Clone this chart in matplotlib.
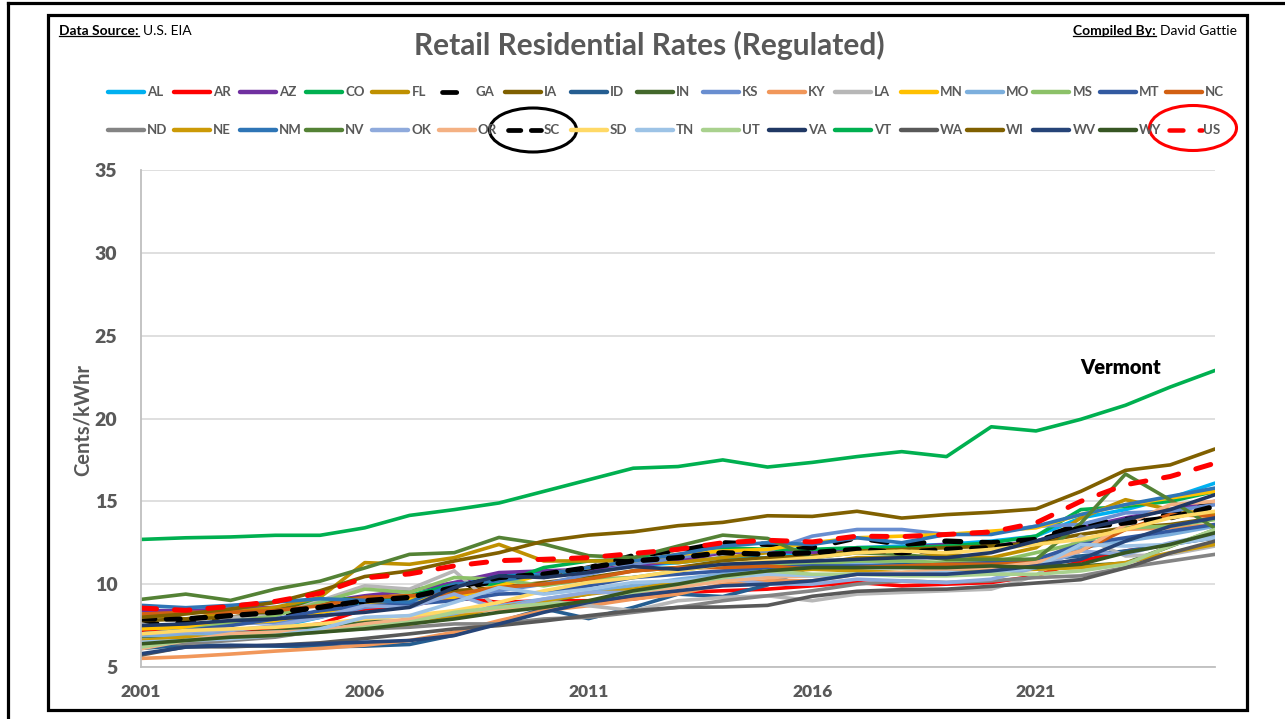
import matplotlib
matplotlib.use("Agg")
import matplotlib.pyplot as plt
from matplotlib.lines import Line2D
from matplotlib.patches import Ellipse, Rectangle

plt.rcParams['font.family'] = ['Lato', 'DejaVu Sans']

years = list(range(2001, 2026))

AL = [7.0, 7.1, 7.2, 7.4, 8.0, 8.9, 9.3, 10.0, 10.6, 10.6, 10.8, 11.1, 11.3, 11.6, 11.6, 12.0, 12.2, 12.3, 12.4, 12.6, 12.9, 14.0, 14.5, 15.2, 16.1]
AR = [7.2, 7.1, 7.2, 7.3, 7.6, 8.5, 8.7, 9.2, 8.9, 9.0, 9.0, 9.1, 9.5, 9.6, 9.7, 9.9, 10.1, 9.9, 10.0, 10.1, 10.5, 11.4, 12.0, 12.4, 12.9]
AZ = [8.4, 8.4, 8.5, 8.6, 8.9, 9.3, 9.6, 10.1, 10.7, 10.8, 10.9, 11.1, 11.4, 11.9, 12.0, 11.9, 12.2, 12.2, 12.4, 12.3, 12.6, 13.4, 14.0, 14.5, 15.0]
CO = [7.5, 7.4, 7.9, 8.3, 9.1, 9.1, 9.3, 10.0, 10.0, 11.0, 11.4, 11.5, 12.1, 12.2, 12.1, 12.1, 12.2, 12.2, 12.3, 12.5, 12.9, 14.5, 14.7, 15.0, 15.6]
FL = [8.2, 7.9, 8.3, 8.6, 9.2, 11.3, 11.2, 11.6, 12.4, 11.4, 11.4, 11.4, 11.3, 11.6, 11.9, 11.2, 11.6, 11.6, 11.8, 11.6, 12.2, 14.0, 15.1, 14.5, 14.2]
GA = [7.6, 7.66, 7.98, 8.1, 8.48, 8.88, 9.12, 9.62, 10.26, 10.46, 10.98, 11.72, 12.0, 12.5, 12.4, 12.2, 12.8, 12.4, 12.6, 12.5, 12.7, 13.6, 13.9, 14.2, 14.9]
IA = [7.8, 7.9, 8.0, 8.4, 8.9, 9.2, 9.3, 9.6, 9.8, 10.1, 10.4, 10.8, 11.0, 11.4, 11.6, 11.7, 12.0, 12.1, 12.2, 12.3, 12.5, 13.0, 13.4, 13.6, 14.0]
ID = [6.12, 6.32, 6.3, 6.26, 6.22, 6.26, 6.36, 6.92, 7.72, 8.52, 7.92, 8.6, 9.4, 9.25, 9.95, 11.1, 11.2, 11.2, 11.3, 11.4, 11.5, 11.7, 12.0, 12.4, 12.8]
IN = [6.82, 6.9, 7.0, 7.18, 7.4, 7.78, 7.72, 8.22, 8.58, 8.92, 9.42, 9.98, 10.2, 10.47, 10.77, 11.07, 11.18, 11.1, 11.07, 11.07, 11.1, 11.1, 11.27, 12.28, 13.29]
KS = [7.4, 7.5, 7.6, 7.7, 8.0, 8.6, 8.8, 9.3, 9.6, 10.0, 10.6, 11.2, 11.6, 12.0, 12.0, 12.9, 13.3, 13.3, 13.0, 13.1, 13.5, 13.6, 14.3, 14.4, 14.8]
KY = [5.52, 5.62, 5.78, 5.96, 6.12, 6.32, 6.6, 7.1, 7.8, 8.4, 8.7, 9.1, 9.4, 10.0, 10.2, 10.2, 10.6, 10.6, 10.7, 10.9, 11.3, 12.6, 13.3, 13.4, 13.6]
LA = [7.6, 7.0, 8.0, 8.1, 9.0, 9.9, 9.7, 10.8, 8.5, 9.0, 8.7, 8.4, 9.0, 9.2, 9.3, 9.0, 9.4, 9.5, 9.6, 9.7, 10.5, 12.9, 11.7, 11.8, 12.3]
MN = [7.3, 7.4, 7.6, 7.8, 8.3, 8.7, 9.1, 9.2, 9.9, 10.6, 11.0, 11.4, 11.8, 12.0, 12.1, 12.5, 12.8, 12.9, 13.0, 13.2, 13.4, 14.2, 14.8, 15.2, 15.6]
MO = [6.9, 6.9, 7.0, 7.1, 7.2, 7.5, 7.7, 8.1, 8.7, 9.1, 9.5, 9.9, 10.3, 10.6, 10.9, 11.2, 11.2, 11.1, 11.0, 11.0, 11.3, 12.2, 12.6, 13.0, 13.5]
MS = [7.0, 7.2, 7.7, 8.1, 8.9, 9.7, 9.5, 10.4, 10.3, 9.9, 10.3, 10.4, 10.8, 11.2, 11.2, 11.2, 11.4, 11.4, 11.3, 11.3, 11.9, 12.5, 13.4, 13.5, 13.9]
MT = [7.0, 7.2, 7.5, 7.9, 8.4, 8.7, 8.8, 9.0, 9.4, 9.5, 9.9, 10.4, 10.6, 10.8, 11.0, 11.1, 11.1, 11.1, 11.2, 11.3, 11.5, 12.4, 12.8, 13.2, 13.6]
NC = [8.2, 8.3, 8.3, 8.4, 8.7, 9.2, 9.3, 9.4, 9.8, 10.0, 10.3, 10.8, 11.0, 11.0, 11.1, 10.9, 11.0, 11.1, 11.2, 11.2, 11.3, 12.0, 13.3, 14.2, 14.1]
ND = [6.5, 6.4, 6.6, 6.8, 7.2, 7.3, 7.4, 7.6, 7.6, 7.9, 8.0, 8.3, 8.6, 9.0, 9.3, 9.6, 10.0, 10.2, 10.1, 10.2, 10.4, 10.5, 11.0, 11.4, 11.8]
NE = [6.6, 6.8, 6.8, 7.0, 7.2, 7.4, 7.6, 8.0, 8.6, 9.0, 9.4, 9.7, 10.1, 10.4, 10.7, 10.9, 10.8, 10.7, 10.8, 10.8, 10.9, 11.0, 11.3, 11.9, 12.4]
NM = [8.72, 8.58, 8.72, 8.92, 9.12, 9.02, 8.92, 10.0, 10.2, 10.6, 11.0, 11.4, 11.8, 12.3, 12.5, 12.4, 12.8, 12.5, 13.0, 13.0, 13.5, 14.2, 14.8, 15.3, 15.8]
NV = [9.08, 9.4, 9.02, 9.7, 10.18, 10.98, 11.8, 11.9, 12.82, 12.42, 11.72, 11.6, 12.3, 12.96, 12.76, 11.6, 11.9, 11.8, 11.5, 11.5, 11.5, 13.67, 16.65, 15.08, 13.37]
OK = [7.0, 7.1, 7.2, 7.5, 8.0, 8.7, 8.6, 9.4, 8.5, 9.1, 9.5, 9.5, 9.9, 10.4, 10.0, 10.0, 10.3, 10.2, 10.1, 10.3, 11.0, 12.0, 11.8, 12.5, 13.0]
OR = [6.1, 6.6, 7.0, 7.1, 7.2, 7.6, 7.9, 8.3, 8.5, 8.6, 8.9, 9.5, 9.8, 10.2, 10.4, 10.5, 10.6, 10.7, 10.9, 11.0, 11.3, 12.0, 13.6, 14.8, 15.0]
SC = [7.9, 7.9, 8.1, 8.3, 8.6, 9.0, 9.2, 9.8, 10.4, 10.6, 11.0, 11.4, 11.6, 11.9, 11.8, 11.9, 12.1, 11.9, 12.1, 12.2, 12.6, 13.4, 13.7, 14.0, 14.7]
SD = [7.0, 7.2, 7.3, 7.4, 7.6, 7.9, 8.1, 8.4, 8.9, 9.6, 10.1, 10.4, 10.8, 11.2, 11.4, 11.6, 11.9, 12.0, 11.9, 12.1, 12.4, 12.7, 13.3, 14.0, 14.4]
TN = [6.5, 6.6, 6.7, 6.9, 7.3, 8.0, 8.1, 8.9, 9.8, 9.4, 9.7, 10.1, 10.2, 10.4, 10.6, 10.5, 10.6, 10.6, 10.7, 10.7, 11.0, 12.4, 12.3, 12.4, 12.8]
UT = [6.2, 6.6, 6.8, 6.9, 7.1, 7.4, 7.7, 8.3, 8.6, 8.8, 8.9, 9.5, 10.0, 10.4, 10.8, 10.6, 10.6, 10.5, 10.5, 10.6, 10.6, 10.8, 11.2, 12.3, 13.3]
VA = [7.5, 7.6, 7.8, 7.9, 8.1, 8.3, 8.6, 9.8, 10.5, 10.4, 10.7, 11.06, 10.9, 11.2, 11.3, 11.4, 11.5, 11.6, 11.6, 11.9, 12.6, 13.3, 13.9, 14.5, 15.4]
VT = [12.7, 12.8, 12.85, 12.95, 12.95, 13.4, 14.15, 14.5, 14.9, 15.6, 16.3, 17.0, 17.1, 17.5, 17.07, 17.35, 17.7, 18.0, 17.7, 19.5, 19.25, 19.95, 20.8, 21.9, 22.9]
WA = [5.72, 6.22, 6.22, 6.32, 6.46, 6.72, 7.0, 7.3, 7.5, 7.78, 8.1, 8.4, 8.6, 8.62, 8.72, 9.27, 9.57, 9.67, 9.7, 9.87, 10.07, 10.27, 10.98, 11.88, 12.6]
WI = [8.0, 8.2, 8.5, 8.9, 9.6, 10.46, 10.8, 11.4, 11.9, 12.6, 12.96, 13.16, 13.53, 13.73, 14.13, 14.09, 14.4, 13.99, 14.2, 14.34, 14.54, 15.6, 16.87, 17.2, 18.16]
WV = [5.8, 6.2, 6.3, 6.3, 6.4, 6.5, 6.6, 6.9, 7.6, 8.3, 8.9, 9.3, 9.6, 9.9, 10.0, 10.2, 10.6, 10.6, 10.6, 10.8, 11.1, 11.5, 12.6, 13.5, 14.0]
WY = [6.4, 6.6, 6.8, 6.9, 7.1, 7.3, 7.6, 7.9, 8.3, 8.6, 9.0, 9.6, 10.0, 10.5, 10.8, 11.0, 11.0, 11.0, 11.0, 11.1, 11.0, 11.2, 11.9, 12.4, 13.1]
US = [8.56, 8.42, 8.66, 8.96, 9.45, 10.38, 10.62, 11.1, 11.42, 11.5, 11.6, 11.85, 12.1, 12.5, 12.65, 12.55, 12.9, 12.87, 13.0, 13.15, 13.7, 15.0, 16.0, 16.5, 17.3]

names = ["AL", "AR", "AZ", "CO", "FL", "GA", "IA", "ID", "IN", "KS", "KY", "LA", "MN", "MO", "MS", "MT", "NC",
         "ND", "NE", "NM", "NV", "OK", "OR", "SC", "SD", "TN", "UT", "VA", "VT", "WA", "WI", "WV", "WY", "US"]
values = [AL, AR, AZ, CO, FL, GA, IA, ID, IN, KS, KY, LA, MN, MO, MS, MT, NC,
          ND, NE, NM, NV, OK, OR, SC, SD, TN, UT, VA, VT, WA, WI, WV, WY, US]
colors = ["#00B0F0", "#FF0000", "#7030A0", "#00B050", "#BF9000", "#000000", "#7F6000", "#255E91", "#43682B",
          "#698ED0", "#F1975A", "#B7B7B7", "#FFC000", "#7CAFDD", "#8CC168", "#335AA1", "#D26012",
          "#848484", "#CC9A06", "#2E75B6", "#548235", "#8FAADC", "#F4B183", "#000000", "#FFD966",
          "#9DC3E6", "#A9D18E", "#203864", "#00B050", "#595959", "#806000", "#264478", "#375623", "#FF0000"]

# dashed series: (linewidth, dash pattern in linewidth units)
dashed = {"GA": (3.8, (3.0, 4.0)), "SC": (3.8, (2.6, 2.2)), "US": (3.6, (3.1, 3.6))}

W, H = 1285, 719
GRAY = "#595959"


def fx(p):
    return p / W


def fy(p):
    return 1 - p / H


fig = plt.figure(figsize=(12.85, 7.19), dpi=100)
ax = fig.add_axes([fx(141), fy(667), fx(1215) - fx(141), fy(170) - fy(667)])

for name, vals, col in zip(names, values, colors):
    if name in dashed:
        lw, pat = dashed[name]
        ax.plot(years, vals, color=col, lw=lw, linestyle=(0, pat), dash_capstyle="round",
                dash_joinstyle="round")
    else:
        ax.plot(years, vals, color=col, lw=2.6, solid_joinstyle="round", solid_capstyle="round")

ax.set_xlim(2001, 2025)
ax.set_ylim(5, 35)
ax.set_yticks(range(5, 40, 5))
ax.set_xticks([2001, 2006, 2011, 2016, 2021])
ax.yaxis.grid(True, color="#D9D9D9", lw=1.2)
ax.set_axisbelow(True)
for s in ["top", "right"]:
    ax.spines[s].set_visible(False)
for s in ["left", "bottom"]:
    ax.spines[s].set_color("#BFBFBF")
    ax.spines[s].set_linewidth(1.3)
ax.tick_params(axis="y", length=0, labelsize=14, labelcolor=GRAY, pad=17)
ax.tick_params(axis="x", length=0, labelsize=12.5, labelcolor=GRAY, pad=12)
for lbl in ax.get_xticklabels() + ax.get_yticklabels():
    lbl.set_fontweight("heavy")

fig.text(fx(83), fy(420), "Cents/kWhr", rotation=90, ha="center", va="center",
         fontsize=14.5, fontweight="bold", color=GRAY)
fig.text(fx(1080), fy(367), "Vermont", ha="left", va="center", fontsize=14.5, fontweight="heavy", color="black")
fig.text(fx(649), fy(45), "Retail Residential Rates (Regulated)", ha="center", va="center",
         fontsize=21.5, fontweight="bold", color=GRAY)

# legend, two rows of 17
for i, (name, col) in enumerate(zip(names, colors)):
    r, c = divmod(i, 17)
    x0 = 108 + c * 66.1
    yy = fy(92 if r == 0 else 130)
    if name in dashed:
        lw, pat = dashed[name]
        ln = Line2D([fx(x0 + 3), fx(x0 + 36)], [yy, yy], color=col, lw=lw * 0.9, linestyle=(0, pat),
                    dash_capstyle="round", transform=fig.transFigure)
    else:
        ln = Line2D([fx(x0), fx(x0 + 36)], [yy, yy], color=col, lw=3.2, solid_capstyle="round",
                    transform=fig.transFigure)
    fig.add_artist(ln)
    tx = x0 + 39 if name not in ("GA", "US") else x0 + 37
    fig.text(fx(tx), yy, name, ha="left", va="center", fontsize=9.5, fontweight="bold", color=GRAY)

# highlight ellipses
fig.add_artist(Ellipse((fx(533), fy(130)), 87 / W, 44 / H, fill=False, ec="black", lw=2.2,
                       transform=fig.transFigure))
fig.add_artist(Ellipse((fx(1193), fy(128)), 87 / W, 45 / H, fill=False, ec="#FF0000", lw=2.2,
                       transform=fig.transFigure))

# frames
fig.add_artist(Rectangle((fx(48), fy(710)), fx(1247) - fx(48), fy(15) - fy(710), fill=False,
                         ec="black", lw=2.3, transform=fig.transFigure))
fig.add_artist(Line2D([fx(8), fx(8)], [fy(3), 0], color="black", lw=2.3, transform=fig.transFigure))
fig.add_artist(Line2D([fx(8), 1], [fy(3), fy(3)], color="black", lw=2.3, transform=fig.transFigure))

# header notes with underlined labels
t1 = fig.text(fx(59), fy(31), "Data Source:", ha="left", va="center", fontsize=10, fontweight="bold")
t4 = fig.text(fx(1237), fy(31), "David Gattie", ha="right", va="center", fontsize=10)
fig.canvas.draw()
rend = fig.canvas.get_renderer()
b1 = t1.get_window_extent(rend)
b4 = t4.get_window_extent(rend)
fig.text((b1.x1 + 4) / W, fy(31), "U.S. EIA", ha="left", va="center", fontsize=10)
t3 = fig.text((b4.x0 - 4) / W, fy(31), "Compiled By:", ha="right", va="center", fontsize=10, fontweight="bold")
fig.canvas.draw()
b3 = t3.get_window_extent(rend)
for b in (b1, b3):
    fig.add_artist(Line2D([b.x0 / W, b.x1 / W], [(b.y0 + 1) / H] * 2, color="black", lw=0.9,
                          transform=fig.transFigure))

fig.savefig("out.png", dpi=100)
